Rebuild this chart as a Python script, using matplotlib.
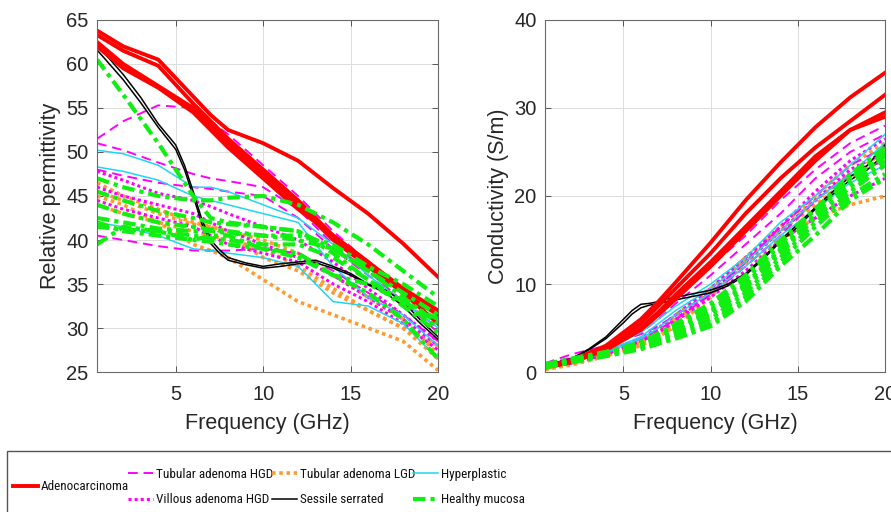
import numpy as np
import matplotlib.pyplot as plt
from matplotlib import font_manager
from matplotlib.lines import Line2D
from matplotlib.patches import Rectangle

plt.rcParams['font.family'] = ['Liberation Sans', 'DejaVu Sans']

# frequency grids (GHz)
freq = [0.5, 2, 4, 6, 7, 8, 10, 12, 14, 16, 18, 20]
freq_ss = [0.5, 2, 3, 4, 5, 5.5, 6, 6.5, 7, 7.5, 8, 9, 10, 11, 12, 13, 14, 15, 16, 17, 18, 19, 20]

# relative permittivity
eps_adeno = [
    [63.8, 62.0, 60.5, 56.3, 54.2, 52.5, 51.0, 49.0, 45.9, 43.0, 39.6, 35.8],
    [63.3, 61.5, 59.8, 55.5, 53.5, 51.5, 48.0, 44.5, 40.5, 37.5, 34.5, 32.0],
    [62.5, 60.0, 57.5, 55.0, 53.0, 51.0, 47.5, 44.0, 40.0, 37.0, 34.0, 30.5],
    [62.0, 59.5, 57.3, 54.5, 52.5, 50.5, 47.0, 43.5, 40.5, 37.5, 34.0, 31.5],
]
eps_tub_hgd = [
    [51.5, 53.5, 55.3, 55.0, 53.5, 52.0, 48.5, 45.0, 41.0, 37.5, 34.5, 30.5],
    [51.0, 50.2, 48.8, 47.5, 47.0, 46.7, 46.0, 43.5, 39.5, 36.5, 33.0, 29.5],
    [48.0, 47.3, 46.5, 46.0, 45.8, 45.5, 45.0, 42.5, 39.0, 36.0, 33.0, 30.0],
    [40.5, 40.0, 39.3, 38.8, 38.8, 38.8, 39.0, 38.5, 36.5, 34.0, 31.5, 28.5],
]
eps_vil_hgd = [
    [47.8, 46.8, 45.3, 44.5, 43.8, 43.0, 41.5, 40.0, 37.5, 34.5, 31.5, 28.5],
    [46.0, 45.0, 44.0, 43.0, 42.0, 41.0, 39.5, 38.0, 36.0, 33.5, 31.0, 28.0],
    [44.5, 43.5, 42.5, 41.5, 40.5, 39.5, 38.5, 37.5, 35.0, 33.0, 30.5, 27.5],
]
eps_tub_lgd = [
    [45.0, 44.0, 42.0, 39.5, 38.8, 38.0, 35.5, 33.0, 31.5, 30.0, 28.5, 25.2],
    [46.5, 45.0, 43.5, 42.0, 41.5, 40.5, 38.0, 36.5, 34.0, 32.0, 30.0, 26.5],
    [45.5, 44.5, 43.0, 41.8, 41.5, 41.0, 40.0, 38.5, 36.0, 33.5, 31.0, 27.0],
    [44.0, 43.0, 42.0, 41.0, 40.5, 40.0, 39.0, 37.0, 34.5, 32.0, 30.0, 28.0],
]
eps_sessile = [
    [62.2, 58.8, 56.2, 53.2, 50.8, 48.5, 45.5, 42.3, 40.0, 38.9, 38.0, 37.4, 37.0,
     37.3, 37.5, 37.7, 37.0, 36.2, 35.0, 34.3, 33.0, 30.9, 29.0],
    [61.6, 58.2, 55.6, 52.8, 50.3, 48.0, 45.0, 41.8, 39.6, 38.5, 37.7, 37.2, 36.8,
     37.0, 37.3, 37.4, 36.8, 36.0, 34.9, 34.0, 32.5, 30.5, 28.7],
]
eps_hyper = [
    [50.2, 49.8, 48.5, 46.0, 46.0, 45.5, 44.0, 42.5, 39.5, 36.0, 33.0, 30.0],
    [48.3, 47.8, 46.8, 45.0, 44.5, 44.0, 43.0, 42.0, 37.0, 33.5, 31.5, 28.0],
    [42.0, 41.5, 40.5, 39.0, 38.8, 38.5, 38.0, 37.0, 33.0, 32.5, 30.5, 26.5],
]
eps_healthy = [
    [60.5, 56.5, 51.0, 45.0, 42.5, 42.0, 41.5, 41.0, 38.5, 35.5, 33.0, 30.0],
    [47.0, 46.0, 45.0, 44.5, 44.5, 44.8, 45.0, 44.0, 42.0, 39.5, 36.5, 33.5],
    [45.5, 44.5, 43.3, 42.5, 42.0, 41.8, 41.5, 41.0, 39.0, 36.5, 34.0, 31.5],
    [44.0, 43.0, 42.0, 41.5, 41.2, 41.0, 40.5, 40.5, 39.5, 37.0, 35.0, 32.5],
    [42.5, 42.0, 41.3, 41.0, 41.0, 40.8, 40.5, 40.0, 39.0, 36.5, 33.5, 30.5],
    [41.5, 41.2, 41.0, 40.5, 40.2, 40.0, 39.5, 39.5, 38.0, 35.5, 32.5, 29.5],
    [39.5, 41.5, 41.0, 40.0, 40.5, 40.5, 39.0, 38.5, 36.0, 34.0, 31.0, 26.5],
    [42.0, 41.0, 40.5, 40.0, 39.8, 39.5, 39.0, 38.0, 36.0, 35.0, 33.0, 31.0],
]

# conductivity (S/m)
sig_adeno = [
    [0.7, 1.3, 3.0, 6.0, 8.0, 10.2, 14.7, 19.5, 23.8, 27.8, 31.2, 34.0],
    [0.6, 1.2, 2.8, 5.5, 7.5, 9.5, 13.5, 18.0, 22.0, 25.5, 28.5, 31.5],
    [0.6, 1.2, 2.6, 5.0, 6.8, 8.8, 12.5, 16.5, 20.5, 24.5, 27.5, 29.5],
    [0.5, 1.1, 2.5, 4.8, 6.5, 8.3, 12.0, 16.0, 20.0, 24.0, 27.5, 29.0],
]
sig_tub_hgd = [
    [0.9, 1.6, 3.0, 5.0, 6.5, 8.5, 12.0, 15.5, 19.5, 23.0, 26.0, 28.0],
    [0.8, 1.4, 2.8, 4.5, 6.0, 7.8, 11.0, 14.5, 18.0, 22.0, 25.0, 27.0],
    [1.0, 2.0, 3.0, 4.3, 5.2, 6.5, 9.0, 12.5, 16.5, 20.0, 23.5, 25.5],
    [0.7, 1.3, 2.5, 3.8, 4.8, 6.0, 8.8, 12.0, 15.5, 19.5, 22.5, 24.0],
]
sig_vil_hgd = [
    [0.7, 1.2, 2.3, 3.5, 4.5, 5.8, 8.5, 11.5, 15.0, 17.5, 20.0, 22.0],
    [0.6, 1.1, 2.2, 3.8, 5.0, 6.5, 9.5, 13.0, 16.5, 20.5, 24.0, 26.5],
    [0.5, 1.0, 2.0, 3.5, 4.5, 6.0, 9.0, 12.5, 16.0, 19.5, 23.0, 25.0],
]
sig_tub_lgd = [
    [0.3, 0.9, 1.9, 3.2, 4.2, 5.8, 8.8, 12.3, 15.0, 17.5, 19.0, 20.0],
    [0.4, 1.0, 2.0, 3.3, 4.5, 6.0, 9.2, 13.0, 16.5, 20.0, 23.5, 26.0],
    [0.4, 1.0, 2.1, 3.5, 4.8, 6.5, 9.5, 13.0, 16.0, 19.0, 22.0, 24.5],
    [0.3, 0.8, 1.8, 3.0, 4.0, 5.2, 8.5, 12.5, 16.0, 19.5, 22.5, 25.0],
]
sig_sessile = [
    [0.8, 1.5, 2.6, 4.0, 6.0, 7.0, 7.7, 7.8, 8.0, 8.3, 8.5, 8.9, 9.3,
     10.0, 11.2, 13.0, 15.0, 16.8, 18.7, 20.5, 22.2, 23.5, 25.8],
    [0.7, 1.4, 2.5, 3.8, 5.6, 6.6, 7.3, 7.6, 7.8, 8.0, 8.2, 8.6, 9.0,
     9.8, 11.0, 12.8, 14.8, 16.5, 18.5, 20.2, 21.8, 23.0, 24.8],
]
sig_hyper = [
    [0.8, 1.3, 2.6, 4.5, 6.0, 7.5, 10.0, 13.0, 17.0, 20.0, 23.5, 27.0],
    [0.7, 1.2, 2.4, 4.0, 5.5, 7.0, 9.5, 12.5, 16.0, 19.5, 22.5, 26.0],
    [0.6, 1.1, 2.2, 3.8, 5.0, 6.5, 9.0, 12.0, 15.5, 18.5, 21.5, 23.5],
]
sig_healthy = [
    [0.8, 1.5, 2.2, 3.0, 3.7, 4.5, 6.5, 9.5, 13.5, 17.5, 21.0, 24.0],
    [0.6, 1.3, 2.0, 2.8, 3.5, 4.3, 6.0, 9.0, 13.0, 17.0, 20.5, 23.5],
    [0.5, 1.2, 1.9, 2.7, 3.3, 4.0, 5.5, 8.5, 12.5, 16.5, 20.0, 22.5],
    [0.7, 1.4, 2.1, 3.2, 4.0, 5.0, 7.0, 10.0, 14.0, 18.0, 22.0, 25.0],
    [0.9, 1.5, 2.3, 3.3, 4.2, 5.2, 7.5, 10.5, 14.5, 18.5, 22.0, 24.5],
    [0.6, 1.2, 2.0, 3.0, 3.8, 4.8, 6.8, 9.8, 13.8, 17.8, 21.5, 24.5],
    [0.5, 1.1, 1.8, 2.6, 3.2, 3.8, 5.2, 8.0, 12.0, 15.5, 19.5, 22.0],
    [0.8, 1.4, 2.2, 3.4, 4.4, 5.5, 7.8, 11.0, 15.0, 18.5, 22.5, 25.5],
]

labels = ['Adenocarcinoma', 'Tubular adenoma HGD', 'Villous adenoma HGD',
          'Tubular adenoma LGD', 'Sessile serrated', 'Hyperplastic', 'Healthy mucosa']

styles = {
    'Adenocarcinoma': dict(color='#ff0000', ls='-', lw=2.8),
    'Tubular adenoma HGD': dict(color='#ff00ff', ls=(0, (5, 3)), lw=1.4),
    'Villous adenoma HGD': dict(color='#ff00ff', ls=(0, (1, 1)), lw=2.2),
    'Tubular adenoma LGD': dict(color='#ff9a2e', ls=(0, (1, 1)), lw=2.6),
    'Sessile serrated': dict(color='#000000', ls='-', lw=1.1),
    'Hyperplastic': dict(color='#1ed6f2', ls='-', lw=1.1),
    'Healthy mucosa': dict(color='#11ee11', ls=(0, (3, 1.2, 1, 1.2)), lw=3.0),
}

eps_sets = [eps_adeno, eps_tub_hgd, eps_vil_hgd, eps_tub_lgd, eps_sessile, eps_hyper, eps_healthy]
sig_sets = [sig_adeno, sig_tub_hgd, sig_vil_hgd, sig_tub_lgd, sig_sessile, sig_hyper, sig_healthy]

fig = plt.figure(figsize=(8.91, 5.12), dpi=100)
ax1 = fig.add_axes([0.1089, 0.2734, 0.3827, 0.6876])
ax2 = fig.add_axes([0.6117, 0.2734, 0.3816, 0.6876])

draw_order = [3, 2, 1, 5, 4, 0, 6]
for ax, sets in [(ax1, eps_sets), (ax2, sig_sets)]:
    for k in draw_order:
        st = styles[labels[k]]
        x = freq_ss if labels[k] == 'Sessile serrated' else freq
        for curve in sets[k]:
            ax.plot(x, curve, color=st['color'], linestyle=st['ls'], linewidth=st['lw'])

for ax in (ax1, ax2):
    ax.set_xlim(0.5, 20)
    ax.set_xticks([5, 10, 15, 20])
    ax.grid(True, color='#dcdcdc', linewidth=0.7)
    ax.set_axisbelow(True)
    ax.tick_params(direction='in', top=True, right=True, length=4, width=0.7,
                   color='#555555', labelcolor='#262626', labelsize=14.5)
    ax.tick_params(axis='y', pad=6)
    ax.tick_params(axis='x', pad=9)
    for sp in ax.spines.values():
        sp.set_color('#6a6a6a')
        sp.set_linewidth(0.8)
    ax.set_xlabel('Frequency (GHz)', fontsize=15.5, color='#262626', labelpad=7)

ax1.set_ylim(25, 65)
ax1.set_yticks(np.arange(25, 66, 5))
ax1.set_ylabel('Relative permittivity', fontsize=15.5, color='#262626', labelpad=4)
ax2.set_ylim(0, 40)
ax2.set_yticks([0, 10, 20, 30, 40])
ax2.set_ylabel('Conductivity (S/m)', fontsize=15.5, color='#262626', labelpad=4)

# legend box along the bottom
fig.patches.append(Rectangle((7 / 891, -0.05), 1.2, 1 - 451 / 512 + 0.05,
                             transform=fig.transFigure, fill=False,
                             edgecolor='#555555', linewidth=1.0))

def handle(lab):
    st = styles[lab]
    return Line2D([], [], color=st['color'], linestyle=st['ls'], linewidth=st['lw'])

# the legend text is a narrow face; use one if installed, else a smaller regular one
leg_family, leg_size = 'Liberation Sans', 8.3
for fam in ['Liberation Sans Narrow', 'Roboto Condensed']:
    try:
        font_manager.findfont(font_manager.FontProperties(family=fam),
                              fallback_to_default=False)
        leg_family, leg_size = fam, 9.5
        break
    except ValueError:
        pass

leg_font = dict(family=[leg_family, 'DejaVu Sans'], size=leg_size)
columns = [(13, ['Adenocarcinoma']),
           (128, ['Tubular adenoma HGD', 'Villous adenoma HGD']),
           (272, ['Tubular adenoma LGD', 'Sessile serrated']),
           (413, ['Hyperplastic', 'Healthy mucosa'])]
for xpx, labs in columns:
    leg = fig.legend([handle(l) for l in labs], labs, loc='center left',
                     bbox_to_anchor=(xpx / 891, 1 - 487 / 512), frameon=False,
                     prop=leg_font, handlelength=25 / (leg_size * 100 / 72),
                     handletextpad=0.2, borderpad=0, borderaxespad=0,
                     labelspacing=0.95)
    for t in leg.get_texts():
        t.set_color('#111111')

fig.savefig('out.png', dpi=100)
